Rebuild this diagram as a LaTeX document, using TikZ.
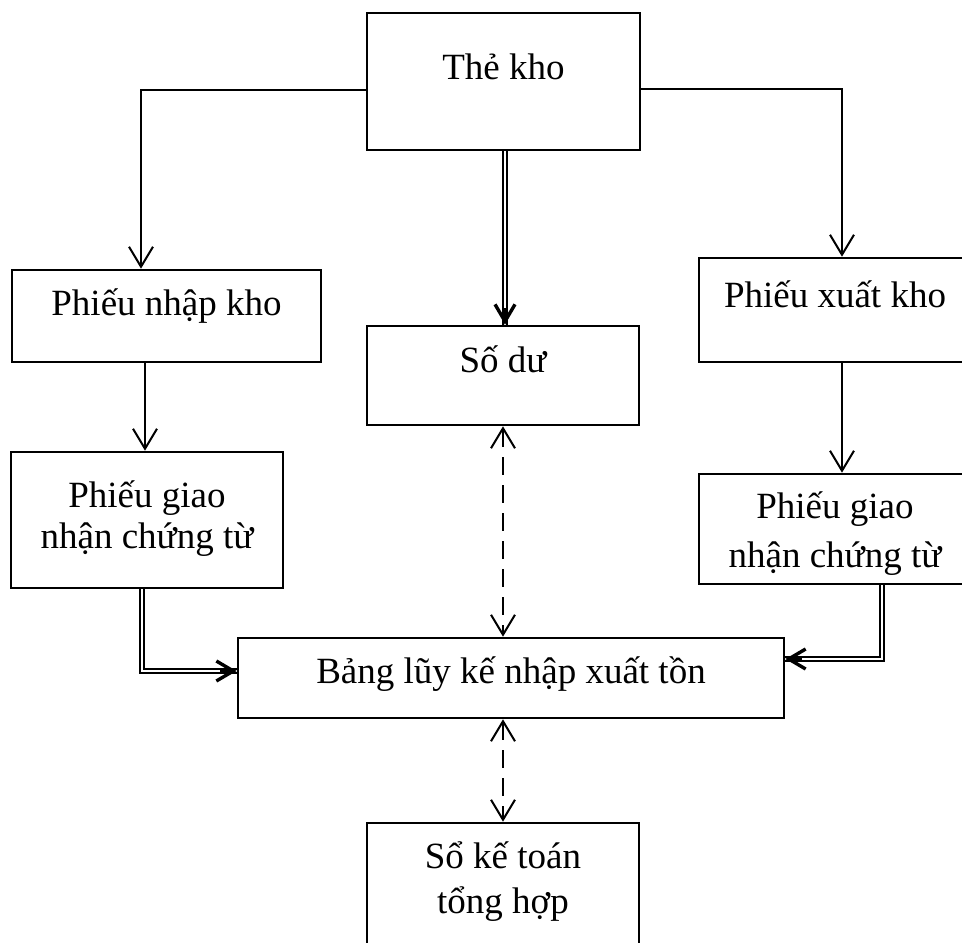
\documentclass[tikz,border=0pt]{standalone}
\usepackage{fontspec}
\setmainfont{Liberation Serif}
\usetikzlibrary{arrows.meta,calc}
\begin{document}
\begin{tikzpicture}[x=1pt,y=-1pt,
  box/.style={draw, line width=2.6pt, inner sep=0pt, rectangle},
  lbl/.style={anchor=base, inner sep=0pt, font=\fontsize{37}{44}\selectfont},
  arr/.style={line width=2pt, -{Straight Barb[length=20pt,width=24pt]}},
  dasharr/.style={line width=2pt, dash pattern=on 18pt off 10pt,
    {Straight Barb[length=20pt,width=24pt]}-{Straight Barb[length=20pt,width=24pt]}},
  dbl/.style={line width=1.5pt, double, double distance=2.5pt, line join=miter},
  dbltip/.style={line width=3.4pt, -{Straight Barb[length=17pt,width=20pt]}}
]
\useasboundingbox (0,0) rectangle (962,943);
\clip (0,0) rectangle (962,943);

% boxes
\node[box, minimum width=273pt, minimum height=137pt] (tk)   at (503.5,81.5) {};
\node[box, minimum width=309pt, minimum height=92pt]  (pnk)  at (166.5,316)  {};
\node[box, minimum width=272pt, minimum height=99pt]  (sodu) at (503,375.5)  {};
\node[box, minimum width=272pt, minimum height=104pt] (pxk)  at (835,310)    {};
\node[box, minimum width=272pt, minimum height=136pt] (pgl)  at (147,520)    {};
\node[box, minimum width=272pt, minimum height=110pt] (pgr)  at (835,529)    {};
\node[box, minimum width=546pt, minimum height=80pt]  (bang) at (511,678)    {};
\node[box, minimum width=272pt, minimum height=147pt] (sokt) at (503,896.5)  {};

% labels
\node[lbl] (tkt)   at (503.5,79) {Thẻ kho};
\node[lbl] (pnkt)  at (166.5,315) {Phiếu nhập kho};
\node[lbl] (sodut) at (503,372) {Số dư};
\node[lbl] (pxkt)  at (835,307) {Phiếu xuất kho};
\node[lbl] (pgl1)  at (147,507) {Phiếu giao};
\node[lbl] (pgl2)  at (147,548) {nhận chứng từ};
\node[lbl] (pgr1)  at (835,518) {Phiếu giao};
\node[lbl] (pgr2)  at (835,567) {nhận chứng từ};
\node[lbl] (bangt) at (511,683) {Bảng lũy kế nhập xuất tồn};
\node[lbl] (sokt1) at (503,868) {Sổ kế toán};
\node[lbl] (sokt2) at (503,913) {tổng hợp};

% guide coordinates for the connectors
\coordinate (lft) at (141,90);
\coordinate (rgt) at (842,89);
\coordinate (xl)  at (145,0);
\coordinate (xm)  at (503,0);
\coordinate (xd)  at (505,0);
\coordinate (dl)  at (142,671);
\coordinate (dr)  at (882,659);

% single arrows
\draw[arr] (tk.west |- lft) -| (pnk.north -| lft);
\draw[arr] (tk.east |- rgt) -| (pxk.north -| rgt);
\draw[arr] (pnk.south -| xl) -- (pgl.north -| xl);
\draw[arr] (pxk.south -| rgt) -- (pgr.north -| rgt);

% double arrows, each with a heavy head at its end
\draw[dbl] (tk.south -| xd) -- (sodu.north -| xd);
\draw[dbltip] ($(sodu.north -| xd)+(0,-17)$) -- (sodu.north -| xd);
\draw[dbl] (pgl.south -| dl) |- (bang.west |- dl);
\draw[dbltip] ($(bang.west |- dl)+(-17,0)$) -- (bang.west |- dl);
\draw[dbl] (pgr.south -| dr) |- (bang.east |- dr);
\draw[dbltip] ($(bang.east |- dr)+(17,0)$) -- (bang.east |- dr);

% dashed two-way arrows
\draw[dasharr] (sodu.south -| xm) -- (bang.north -| xm);
\draw[dasharr] (bang.south -| xm) -- (sokt.north -| xm);
\end{tikzpicture}
\end{document}
